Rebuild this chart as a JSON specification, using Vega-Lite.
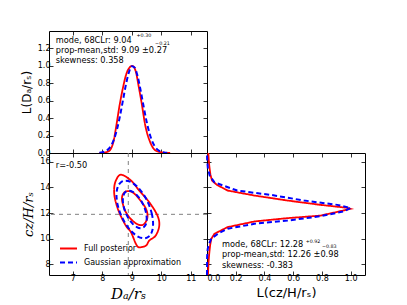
{
"$schema": "https://vega.github.io/schema/vega-lite/v6.json",
"autosize": {"type": "pad"},
"padding": {"left": 19, "top": 30, "right": 5, "bottom": 5},
"background": "white",
"bounds": "flush",
"spacing": 0,
"config": {
  "view": {"stroke": "black", "strokeWidth": 1},
  "font": "DejaVu Sans",
  "axis": {"domain": false, "grid": false, "tickColor": "black", "tickSize": -4, "tickWidth": 0.8, "labelFont": "DejaVu Sans", "labelFontSize": 8, "labelColor": "black", "labelPadding": 3, "titleFont": "DejaVu Serif", "titleFontStyle": "italic", "titleFontWeight": "normal", "titleFontSize": 14, "titleColor": "black", "titlePadding": 4},
  "text": {"font": "DejaVu Sans", "fontSize": 8.2, "color": "black", "align": "left", "baseline": "middle"}
},
"datasets": {
  "top": [
    {"x": 7.9, "L": 0, "s": "Full posterior"},
    {"x": 8.05, "L": 0.004, "s": "Full posterior"},
    {"x": 8.16, "L": 0.012, "s": "Full posterior"},
    {"x": 8.27, "L": 0.038, "s": "Full posterior"},
    {"x": 8.38, "L": 0.135, "s": "Full posterior"},
    {"x": 8.48, "L": 0.327, "s": "Full posterior"},
    {"x": 8.59, "L": 0.558, "s": "Full posterior"},
    {"x": 8.7, "L": 0.75, "s": "Full posterior"},
    {"x": 8.81, "L": 0.904, "s": "Full posterior"},
    {"x": 8.92, "L": 0.98, "s": "Full posterior"},
    {"x": 9.02, "L": 1.0, "s": "Full posterior"},
    {"x": 9.13, "L": 0.94, "s": "Full posterior"},
    {"x": 9.24, "L": 0.75, "s": "Full posterior"},
    {"x": 9.34, "L": 0.558, "s": "Full posterior"},
    {"x": 9.45, "L": 0.327, "s": "Full posterior"},
    {"x": 9.61, "L": 0.135, "s": "Full posterior"},
    {"x": 9.77, "L": 0.038, "s": "Full posterior"},
    {"x": 9.9, "L": 0.015, "s": "Full posterior"},
    {"x": 9.99, "L": 0.008, "s": "Full posterior"},
    {"x": 10.15, "L": 0.002, "s": "Full posterior"},
    {"x": 10.3, "L": 0, "s": "Full posterior"},
    {"x": 7.9, "L": 0.0028, "s": "Gaussian approximation"},
    {"x": 8.0, "L": 0.0077, "s": "Gaussian approximation"},
    {"x": 8.1, "L": 0.0189, "s": "Gaussian approximation"},
    {"x": 8.2, "L": 0.0423, "s": "Gaussian approximation"},
    {"x": 8.3, "L": 0.0866, "s": "Gaussian approximation"},
    {"x": 8.4, "L": 0.1617, "s": "Gaussian approximation"},
    {"x": 8.5, "L": 0.2753, "s": "Gaussian approximation"},
    {"x": 8.6, "L": 0.4279, "s": "Gaussian approximation"},
    {"x": 8.7, "L": 0.6065, "s": "Gaussian approximation"},
    {"x": 8.8, "L": 0.7843, "s": "Gaussian approximation"},
    {"x": 8.9, "L": 0.9253, "s": "Gaussian approximation"},
    {"x": 9.0, "L": 0.9959, "s": "Gaussian approximation"},
    {"x": 9.1, "L": 0.9778, "s": "Gaussian approximation"},
    {"x": 9.2, "L": 0.8757, "s": "Gaussian approximation"},
    {"x": 9.3, "L": 0.7156, "s": "Gaussian approximation"},
    {"x": 9.4, "L": 0.5334, "s": "Gaussian approximation"},
    {"x": 9.5, "L": 0.3627, "s": "Gaussian approximation"},
    {"x": 9.6, "L": 0.225, "s": "Gaussian approximation"},
    {"x": 9.7, "L": 0.1273, "s": "Gaussian approximation"},
    {"x": 9.8, "L": 0.0657, "s": "Gaussian approximation"},
    {"x": 9.9, "L": 0.031, "s": "Gaussian approximation"},
    {"x": 10.0, "L": 0.0133, "s": "Gaussian approximation"},
    {"x": 10.1, "L": 0.0052, "s": "Gaussian approximation"},
    {"x": 10.2, "L": 0.0019, "s": "Gaussian approximation"}
  ],
  "right": [
    {"y": 7.15, "L": 0.007, "s": "Full posterior"},
    {"y": 7.5, "L": 0.008, "s": "Full posterior"},
    {"y": 8.0, "L": 0.01, "s": "Full posterior"},
    {"y": 8.5, "L": 0.013, "s": "Full posterior"},
    {"y": 9.0, "L": 0.017, "s": "Full posterior"},
    {"y": 9.5, "L": 0.022, "s": "Full posterior"},
    {"y": 9.98, "L": 0.03, "s": "Full posterior"},
    {"y": 10.38, "L": 0.052, "s": "Full posterior"},
    {"y": 10.9, "L": 0.144, "s": "Full posterior"},
    {"y": 11.34, "L": 0.33, "s": "Full posterior"},
    {"y": 11.6, "L": 0.56, "s": "Full posterior"},
    {"y": 11.8, "L": 0.79, "s": "Full posterior"},
    {"y": 12.2, "L": 0.95, "s": "Full posterior"},
    {"y": 12.33, "L": 1.0, "s": "Full posterior"},
    {"y": 12.41, "L": 0.976, "s": "Full posterior"},
    {"y": 12.64, "L": 0.79, "s": "Full posterior"},
    {"y": 12.98, "L": 0.56, "s": "Full posterior"},
    {"y": 13.37, "L": 0.33, "s": "Full posterior"},
    {"y": 13.76, "L": 0.144, "s": "Full posterior"},
    {"y": 14.2, "L": 0.07, "s": "Full posterior"},
    {"y": 14.54, "L": 0.035, "s": "Full posterior"},
    {"y": 15.0, "L": 0.024, "s": "Full posterior"},
    {"y": 15.5, "L": 0.018, "s": "Full posterior"},
    {"y": 16.0, "L": 0.013, "s": "Full posterior"},
    {"y": 16.7, "L": 0.009, "s": "Full posterior"},
    {"y": 7.15, "L": 0, "s": "Gaussian approximation"},
    {"y": 8.6, "L": 0.001, "s": "Gaussian approximation"},
    {"y": 9.2, "L": 0.005, "s": "Gaussian approximation"},
    {"y": 9.6, "L": 0.015, "s": "Gaussian approximation"},
    {"y": 10.0, "L": 0.03, "s": "Gaussian approximation"},
    {"y": 10.38, "L": 0.075, "s": "Gaussian approximation"},
    {"y": 10.77, "L": 0.144, "s": "Gaussian approximation"},
    {"y": 11.16, "L": 0.33, "s": "Gaussian approximation"},
    {"y": 11.41, "L": 0.56, "s": "Gaussian approximation"},
    {"y": 11.75, "L": 0.79, "s": "Gaussian approximation"},
    {"y": 12.12, "L": 0.95, "s": "Gaussian approximation"},
    {"y": 12.4, "L": 1.0, "s": "Gaussian approximation"},
    {"y": 12.64, "L": 0.907, "s": "Gaussian approximation"},
    {"y": 12.98, "L": 0.676, "s": "Gaussian approximation"},
    {"y": 13.42, "L": 0.445, "s": "Gaussian approximation"},
    {"y": 13.76, "L": 0.21, "s": "Gaussian approximation"},
    {"y": 14.4, "L": 0.052, "s": "Gaussian approximation"},
    {"y": 14.9, "L": 0.02, "s": "Gaussian approximation"},
    {"y": 15.5, "L": 0.006, "s": "Gaussian approximation"},
    {"y": 16.2, "L": 0.001, "s": "Gaussian approximation"},
    {"y": 16.7, "L": 0, "s": "Gaussian approximation"}
  ],
  "contours": [
    {"x": 8.63, "y": 15.0, "s": "Full posterior", "c": "ro", "i": 0},
    {"x": 8.97, "y": 14.55, "s": "Full posterior", "c": "ro", "i": 1},
    {"x": 9.25, "y": 13.76, "s": "Full posterior", "c": "ro", "i": 2},
    {"x": 9.59, "y": 12.85, "s": "Full posterior", "c": "ro", "i": 3},
    {"x": 9.87, "y": 11.8, "s": "Full posterior", "c": "ro", "i": 4},
    {"x": 9.93, "y": 11.0, "s": "Full posterior", "c": "ro", "i": 5},
    {"x": 9.81, "y": 10.24, "s": "Full posterior", "c": "ro", "i": 6},
    {"x": 9.59, "y": 9.84, "s": "Full posterior", "c": "ro", "i": 7},
    {"x": 9.48, "y": 9.45, "s": "Full posterior", "c": "ro", "i": 8},
    {"x": 9.25, "y": 9.32, "s": "Full posterior", "c": "ro", "i": 9},
    {"x": 9.14, "y": 9.58, "s": "Full posterior", "c": "ro", "i": 10},
    {"x": 8.97, "y": 10.5, "s": "Full posterior", "c": "ro", "i": 11},
    {"x": 8.8, "y": 11.0, "s": "Full posterior", "c": "ro", "i": 12},
    {"x": 8.57, "y": 12.06, "s": "Full posterior", "c": "ro", "i": 13},
    {"x": 8.43, "y": 13.1, "s": "Full posterior", "c": "ro", "i": 14},
    {"x": 8.4, "y": 13.9, "s": "Full posterior", "c": "ro", "i": 15},
    {"x": 8.46, "y": 14.55, "s": "Full posterior", "c": "ro", "i": 16},
    {"x": 8.8, "y": 13.69, "s": "Full posterior", "c": "ri", "i": 0},
    {"x": 9.02, "y": 13.63, "s": "Full posterior", "c": "ri", "i": 1},
    {"x": 9.25, "y": 13.1, "s": "Full posterior", "c": "ri", "i": 2},
    {"x": 9.48, "y": 12.33, "s": "Full posterior", "c": "ri", "i": 3},
    {"x": 9.53, "y": 11.67, "s": "Full posterior", "c": "ri", "i": 4},
    {"x": 9.42, "y": 11.15, "s": "Full posterior", "c": "ri", "i": 5},
    {"x": 9.25, "y": 11.07, "s": "Full posterior", "c": "ri", "i": 6},
    {"x": 9.02, "y": 11.41, "s": "Full posterior", "c": "ri", "i": 7},
    {"x": 8.8, "y": 12.06, "s": "Full posterior", "c": "ri", "i": 8},
    {"x": 8.68, "y": 12.85, "s": "Full posterior", "c": "ri", "i": 9},
    {"x": 8.68, "y": 13.37, "s": "Full posterior", "c": "ri", "i": 10},
    {"x": 9.721, "y": 11.153, "s": "Gaussian approximation", "c": "bo", "i": 0},
    {"x": 9.684, "y": 11.889, "s": "Gaussian approximation", "c": "bo", "i": 1},
    {"x": 9.576, "y": 12.672, "s": "Gaussian approximation", "c": "bo", "i": 2},
    {"x": 9.411, "y": 13.407, "s": "Gaussian approximation", "c": "bo", "i": 3},
    {"x": 9.208, "y": 14.007, "s": "Gaussian approximation", "c": "bo", "i": 4},
    {"x": 8.992, "y": 14.398, "s": "Gaussian approximation", "c": "bo", "i": 5},
    {"x": 8.79, "y": 14.534, "s": "Gaussian approximation", "c": "bo", "i": 6},
    {"x": 8.624, "y": 14.398, "s": "Gaussian approximation", "c": "bo", "i": 7},
    {"x": 8.516, "y": 14.007, "s": "Gaussian approximation", "c": "bo", "i": 8},
    {"x": 8.479, "y": 13.407, "s": "Gaussian approximation", "c": "bo", "i": 9},
    {"x": 8.516, "y": 12.671, "s": "Gaussian approximation", "c": "bo", "i": 10},
    {"x": 8.624, "y": 11.888, "s": "Gaussian approximation", "c": "bo", "i": 11},
    {"x": 8.79, "y": 11.153, "s": "Gaussian approximation", "c": "bo", "i": 12},
    {"x": 8.992, "y": 10.553, "s": "Gaussian approximation", "c": "bo", "i": 13},
    {"x": 9.208, "y": 10.162, "s": "Gaussian approximation", "c": "bo", "i": 14},
    {"x": 9.411, "y": 10.026, "s": "Gaussian approximation", "c": "bo", "i": 15},
    {"x": 9.576, "y": 10.162, "s": "Gaussian approximation", "c": "bo", "i": 16},
    {"x": 9.684, "y": 10.553, "s": "Gaussian approximation", "c": "bo", "i": 17},
    {"x": 9.505, "y": 11.545, "s": "Gaussian approximation", "c": "bi", "i": 0},
    {"x": 9.481, "y": 12.025, "s": "Gaussian approximation", "c": "bi", "i": 1},
    {"x": 9.41, "y": 12.535, "s": "Gaussian approximation", "c": "bi", "i": 2},
    {"x": 9.303, "y": 13.015, "s": "Gaussian approximation", "c": "bi", "i": 3},
    {"x": 9.17, "y": 13.406, "s": "Gaussian approximation", "c": "bi", "i": 4},
    {"x": 9.03, "y": 13.661, "s": "Gaussian approximation", "c": "bi", "i": 5},
    {"x": 8.898, "y": 13.75, "s": "Gaussian approximation", "c": "bi", "i": 6},
    {"x": 8.79, "y": 13.661, "s": "Gaussian approximation", "c": "bi", "i": 7},
    {"x": 8.719, "y": 13.406, "s": "Gaussian approximation", "c": "bi", "i": 8},
    {"x": 8.695, "y": 13.015, "s": "Gaussian approximation", "c": "bi", "i": 9},
    {"x": 8.719, "y": 12.535, "s": "Gaussian approximation", "c": "bi", "i": 10},
    {"x": 8.79, "y": 12.025, "s": "Gaussian approximation", "c": "bi", "i": 11},
    {"x": 8.898, "y": 11.545, "s": "Gaussian approximation", "c": "bi", "i": 12},
    {"x": 9.03, "y": 11.154, "s": "Gaussian approximation", "c": "bi", "i": 13},
    {"x": 9.17, "y": 10.899, "s": "Gaussian approximation", "c": "bi", "i": 14},
    {"x": 9.303, "y": 10.81, "s": "Gaussian approximation", "c": "bi", "i": 15},
    {"x": 9.41, "y": 10.899, "s": "Gaussian approximation", "c": "bi", "i": 16},
    {"x": 9.481, "y": 11.154, "s": "Gaussian approximation", "c": "bi", "i": 17}
  ],
  "refs": [{"dA": 8.88, "h": 11.9}]
},
"vconcat": [
  {
    "width": 158, "height": 122,
    "resolve": {"axis": {"x": "independent", "y": "independent"}},
    "layer": [
      {
        "data": {"name": "top"},
        "transform": [{"filter": "datum.s === 'Full posterior'"}],
        "mark": {"type": "line", "interpolate": "monotone", "strokeWidth": 1.8},
        "encoding": {
          "x": {"field": "x", "type": "quantitative", "scale": {"domain": [6.19, 11.55], "nice": false, "zero": false}, "axis": {"values": [7, 8, 9, 10, 11], "labels": false, "title": null}},
          "y": {"field": "L", "type": "quantitative", "scale": {"domain": [0, 1.4], "nice": false}, "axis": {"values": [0, 0.2, 0.4, 0.6, 0.8, 1.0, 1.2], "format": ".1f", "title": "L(Dₐ/rₛ)", "titleFont": "DejaVu Sans", "titleFontStyle": "normal", "titleFontSize": 12}},
          "color": {"field": "s", "type": "nominal", "scale": {"domain": ["Full posterior", "Gaussian approximation"], "range": ["#ff0000", "#0000ff"]}, "legend": {"title": null, "orient": "none", "legendX": 10, "legendY": 208, "symbolType": "stroke", "symbolSize": 289, "symbolStrokeWidth": 2, "labelFont": "DejaVu Sans", "labelFontSize": 8, "labelColor": "black", "labelOffset": 6, "rowPadding": -5.3, "padding": 0}},
          "strokeDash": {"field": "s", "type": "nominal", "scale": {"domain": ["Full posterior", "Gaussian approximation"], "range": [[1, 0], [5, 3]]}, "legend": {"title": null, "orient": "none", "legendX": 10, "legendY": 208, "symbolType": "stroke", "symbolSize": 289, "symbolStrokeWidth": 2, "labelFont": "DejaVu Sans", "labelFontSize": 8, "labelColor": "black", "labelOffset": 6, "rowPadding": -5.3, "padding": 0}}
        }
      },
      {
        "data": {"name": "top"},
        "transform": [{"filter": "datum.s === 'Gaussian approximation'"}],
        "mark": {"type": "line", "interpolate": "monotone", "strokeWidth": 2},
        "encoding": {
          "x": {"field": "x", "type": "quantitative", "scale": {"domain": [6.19, 11.55], "nice": false, "zero": false}, "axis": {"orient": "top", "values": [7, 8, 9, 10, 11], "labels": false, "title": null}},
          "y": {"field": "L", "type": "quantitative", "scale": {"domain": [0, 1.4], "nice": false}, "axis": {"orient": "right", "values": [0, 0.2, 0.4, 0.6, 0.8, 1.0, 1.2], "labels": false, "title": null}},
          "color": {"field": "s", "type": "nominal", "scale": {"domain": ["Full posterior", "Gaussian approximation"], "range": ["#ff0000", "#0000ff"]}, "legend": {"title": null, "orient": "none", "legendX": 10, "legendY": 208, "symbolType": "stroke", "symbolSize": 289, "symbolStrokeWidth": 2, "labelFont": "DejaVu Sans", "labelFontSize": 8, "labelColor": "black", "labelOffset": 6, "rowPadding": -5.3, "padding": 0}},
          "strokeDash": {"field": "s", "type": "nominal", "scale": {"domain": ["Full posterior", "Gaussian approximation"], "range": [[1, 0], [5, 3]]}, "legend": {"title": null, "orient": "none", "legendX": 10, "legendY": 208, "symbolType": "stroke", "symbolSize": 289, "symbolStrokeWidth": 2, "labelFont": "DejaVu Sans", "labelFontSize": 8, "labelColor": "black", "labelOffset": 6, "rowPadding": -5.3, "padding": 0}}
        }
      },
      {"data": {"values": [{}]}, "mark": {"type": "text", "text": "mode, 68CLr: 9.04"}, "encoding": {"x": {"datum": 6.42, "type": "quantitative", "axis": null}, "y": {"datum": 1.284, "type": "quantitative", "axis": null}}},
      {"data": {"values": [{}]}, "mark": {"type": "text", "text": "+0.30", "fontSize": 4.8}, "encoding": {"x": {"datum": 9.16, "type": "quantitative", "axis": null}, "y": {"datum": 1.346, "type": "quantitative", "axis": null}}},
      {"data": {"values": [{}]}, "mark": {"type": "text", "text": "−0.21", "fontSize": 4.8}, "encoding": {"x": {"datum": 9.79, "type": "quantitative", "axis": null}, "y": {"datum": 1.249, "type": "quantitative", "axis": null}}},
      {"data": {"values": [{}]}, "mark": {"type": "text", "text": "prop-mean,std: 9.09 ±0.27"}, "encoding": {"x": {"datum": 6.42, "type": "quantitative", "axis": null}, "y": {"datum": 1.168, "type": "quantitative", "axis": null}}},
      {"data": {"values": [{}]}, "mark": {"type": "text", "text": "skewness: 0.358"}, "encoding": {"x": {"datum": 6.42, "type": "quantitative", "axis": null}, "y": {"datum": 1.058, "type": "quantitative", "axis": null}}}
    ]
  },
  {
    "hconcat": [
      {
        "width": 158, "height": 122,
        "resolve": {"axis": {"x": "independent", "y": "independent"}},
        "layer": [
          {
            "data": {"name": "refs"},
            "mark": {"type": "rule", "color": "#808080", "strokeDash": [4, 4], "strokeWidth": 1},
            "encoding": {"x": {"field": "dA", "type": "quantitative", "scale": {"domain": [6.19, 11.55], "nice": false, "zero": false}, "axis": null}}
          },
          {
            "data": {"name": "refs"},
            "mark": {"type": "rule", "color": "#808080", "strokeDash": [4, 4], "strokeWidth": 1},
            "encoding": {"y": {"field": "h", "type": "quantitative", "scale": {"domain": [7.15, 16.7], "nice": false, "zero": false}, "axis": null}}
          },
          {
            "data": {"name": "contours"},
            "transform": [{"filter": "datum.s === 'Full posterior'"}],
            "mark": {"type": "line", "interpolate": "cardinal-closed", "strokeWidth": 1.8},
            "encoding": {
              "x": {"field": "x", "type": "quantitative", "scale": {"domain": [6.19, 11.55], "nice": false, "zero": false}, "axis": {"values": [7, 8, 9, 10, 11], "format": "d", "title": "Dₐ/rₛ", "titleFontSize": 15}},
              "y": {"field": "y", "type": "quantitative", "scale": {"domain": [7.15, 16.7], "nice": false, "zero": false}, "axis": {"values": [8, 10, 12, 14, 16], "format": "d", "title": "cz/H/rₛ", "titleFontSize": 13}},
              "detail": {"field": "c"},
              "order": {"field": "i", "type": "quantitative"},
              "color": {"field": "s", "type": "nominal", "scale": {"domain": ["Full posterior", "Gaussian approximation"], "range": ["#ff0000", "#0000ff"]}, "legend": {"title": null, "orient": "none", "legendX": 10, "legendY": 208, "symbolType": "stroke", "symbolSize": 289, "symbolStrokeWidth": 2, "labelFont": "DejaVu Sans", "labelFontSize": 8, "labelColor": "black", "labelOffset": 6, "rowPadding": -5.3, "padding": 0}},
              "strokeDash": {"field": "s", "type": "nominal", "scale": {"domain": ["Full posterior", "Gaussian approximation"], "range": [[1, 0], [5, 3]]}, "legend": {"title": null, "orient": "none", "legendX": 10, "legendY": 208, "symbolType": "stroke", "symbolSize": 289, "symbolStrokeWidth": 2, "labelFont": "DejaVu Sans", "labelFontSize": 8, "labelColor": "black", "labelOffset": 6, "rowPadding": -5.3, "padding": 0}}
            }
          },
          {
            "data": {"name": "contours"},
            "transform": [{"filter": "datum.s === 'Gaussian approximation'"}],
            "mark": {"type": "line", "interpolate": "cardinal-closed", "strokeWidth": 2},
            "encoding": {
              "x": {"field": "x", "type": "quantitative", "scale": {"domain": [6.19, 11.55], "nice": false, "zero": false}, "axis": {"orient": "top", "values": [7, 8, 9, 10, 11], "labels": false, "title": null}},
              "y": {"field": "y", "type": "quantitative", "scale": {"domain": [7.15, 16.7], "nice": false, "zero": false}, "axis": {"orient": "right", "values": [8, 10, 12, 14, 16], "labels": false, "title": null}},
              "detail": {"field": "c"},
              "order": {"field": "i", "type": "quantitative"},
              "color": {"field": "s", "type": "nominal", "scale": {"domain": ["Full posterior", "Gaussian approximation"], "range": ["#ff0000", "#0000ff"]}, "legend": {"title": null, "orient": "none", "legendX": 10, "legendY": 208, "symbolType": "stroke", "symbolSize": 289, "symbolStrokeWidth": 2, "labelFont": "DejaVu Sans", "labelFontSize": 8, "labelColor": "black", "labelOffset": 6, "rowPadding": -5.3, "padding": 0}},
              "strokeDash": {"field": "s", "type": "nominal", "scale": {"domain": ["Full posterior", "Gaussian approximation"], "range": [[1, 0], [5, 3]]}, "legend": {"title": null, "orient": "none", "legendX": 10, "legendY": 208, "symbolType": "stroke", "symbolSize": 289, "symbolStrokeWidth": 2, "labelFont": "DejaVu Sans", "labelFontSize": 8, "labelColor": "black", "labelOffset": 6, "rowPadding": -5.3, "padding": 0}}
            }
          },
          {"data": {"values": [{}]}, "mark": {"type": "text", "text": "r=-0.50"}, "encoding": {"x": {"datum": 6.42, "type": "quantitative", "axis": null}, "y": {"datum": 15.71, "type": "quantitative", "axis": null}}}
        ]
      },
      {
        "width": 158, "height": 122,
        "resolve": {"axis": {"x": "independent", "y": "independent"}},
        "layer": [
          {
            "data": {"name": "right"},
            "transform": [{"filter": "datum.s === 'Full posterior'"}],
            "mark": {"type": "line", "strokeWidth": 1.8},
            "encoding": {
              "x": {"field": "L", "type": "quantitative", "scale": {"domain": [0, 1.1], "nice": false}, "axis": {"values": [0, 0.2, 0.4, 0.6, 0.8, 1.0], "format": ".1f", "title": "L(cz/H/rₛ)", "titleFont": "DejaVu Sans", "titleFontStyle": "normal", "titleFontSize": 13}},
              "y": {"field": "y", "type": "quantitative", "scale": {"domain": [7.15, 16.7], "nice": false, "zero": false}, "axis": {"values": [8, 10, 12, 14, 16], "labels": false, "title": null}},
              "order": {"field": "y", "type": "quantitative"},
              "color": {"field": "s", "type": "nominal", "scale": {"domain": ["Full posterior", "Gaussian approximation"], "range": ["#ff0000", "#0000ff"]}, "legend": {"title": null, "orient": "none", "legendX": 10, "legendY": 208, "symbolType": "stroke", "symbolSize": 289, "symbolStrokeWidth": 2, "labelFont": "DejaVu Sans", "labelFontSize": 8, "labelColor": "black", "labelOffset": 6, "rowPadding": -5.3, "padding": 0}},
              "strokeDash": {"field": "s", "type": "nominal", "scale": {"domain": ["Full posterior", "Gaussian approximation"], "range": [[1, 0], [5, 3]]}, "legend": {"title": null, "orient": "none", "legendX": 10, "legendY": 208, "symbolType": "stroke", "symbolSize": 289, "symbolStrokeWidth": 2, "labelFont": "DejaVu Sans", "labelFontSize": 8, "labelColor": "black", "labelOffset": 6, "rowPadding": -5.3, "padding": 0}}
            }
          },
          {
            "data": {"name": "right"},
            "transform": [{"filter": "datum.s === 'Gaussian approximation'"}],
            "mark": {"type": "line", "strokeWidth": 2},
            "encoding": {
              "x": {"field": "L", "type": "quantitative", "scale": {"domain": [0, 1.1], "nice": false}, "axis": {"orient": "top", "values": [0, 0.2, 0.4, 0.6, 0.8, 1.0], "labels": false, "title": null}},
              "y": {"field": "y", "type": "quantitative", "scale": {"domain": [7.15, 16.7], "nice": false, "zero": false}, "axis": {"orient": "right", "values": [8, 10, 12, 14, 16], "labels": false, "title": null}},
              "order": {"field": "y", "type": "quantitative"},
              "color": {"field": "s", "type": "nominal", "scale": {"domain": ["Full posterior", "Gaussian approximation"], "range": ["#ff0000", "#0000ff"]}, "legend": {"title": null, "orient": "none", "legendX": 10, "legendY": 208, "symbolType": "stroke", "symbolSize": 289, "symbolStrokeWidth": 2, "labelFont": "DejaVu Sans", "labelFontSize": 8, "labelColor": "black", "labelOffset": 6, "rowPadding": -5.3, "padding": 0}},
              "strokeDash": {"field": "s", "type": "nominal", "scale": {"domain": ["Full posterior", "Gaussian approximation"], "range": [[1, 0], [5, 3]]}, "legend": {"title": null, "orient": "none", "legendX": 10, "legendY": 208, "symbolType": "stroke", "symbolSize": 289, "symbolStrokeWidth": 2, "labelFont": "DejaVu Sans", "labelFontSize": 8, "labelColor": "black", "labelOffset": 6, "rowPadding": -5.3, "padding": 0}}
            }
          },
          {"data": {"values": [{}]}, "mark": {"type": "text", "text": "mode, 68CLr: 12.28"}, "encoding": {"x": {"datum": 0.105, "type": "quantitative", "axis": null}, "y": {"datum": 9.52, "type": "quantitative", "axis": null}}},
          {"data": {"values": [{}]}, "mark": {"type": "text", "text": "+0.92", "fontSize": 4.8}, "encoding": {"x": {"datum": 0.687, "type": "quantitative", "axis": null}, "y": {"datum": 9.75, "type": "quantitative", "axis": null}}},
          {"data": {"values": [{}]}, "mark": {"type": "text", "text": "−0.83", "fontSize": 4.8}, "encoding": {"x": {"datum": 0.8, "type": "quantitative", "axis": null}, "y": {"datum": 9.38, "type": "quantitative", "axis": null}}},
          {"data": {"values": [{}]}, "mark": {"type": "text", "text": "prop-mean,std: 12.26 ±0.98"}, "encoding": {"x": {"datum": 0.105, "type": "quantitative", "axis": null}, "y": {"datum": 8.68, "type": "quantitative", "axis": null}}},
          {"data": {"values": [{}]}, "mark": {"type": "text", "text": "skewness: -0.383"}, "encoding": {"x": {"datum": 0.105, "type": "quantitative", "axis": null}, "y": {"datum": 7.82, "type": "quantitative", "axis": null}}}
        ]
      }
    ],
    "spacing": 0,
    "bounds": "flush"
  }
]
}
